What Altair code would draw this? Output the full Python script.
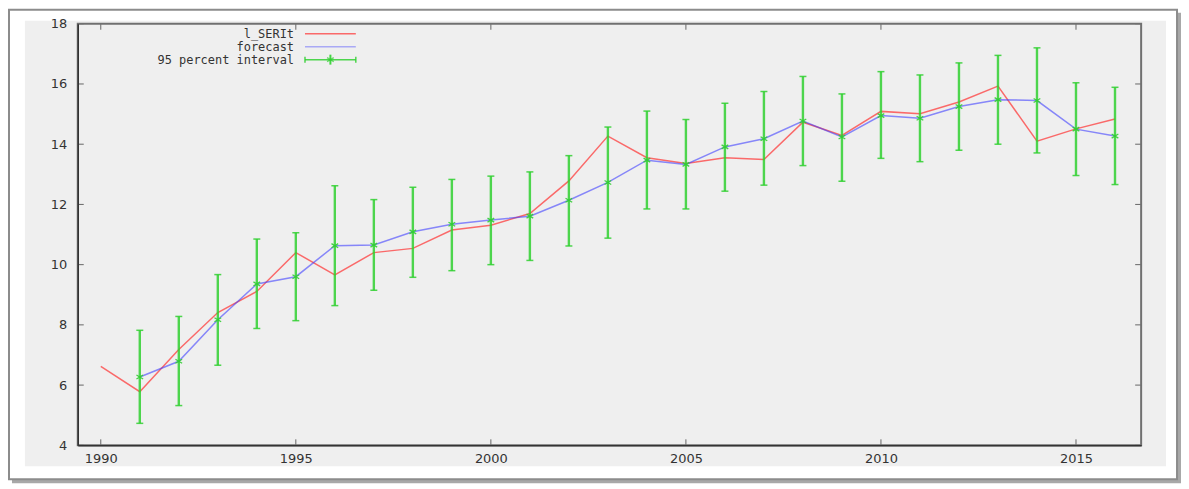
import altair as alt
import pandas as pd

# ---- data ----
years = list(range(1990, 2017))
actual = [6.62, 5.78, 7.18, 8.41, 9.11, 10.40, 9.66, 10.40, 10.54, 11.15, 11.31,
          11.70, 12.78, 14.27, 13.55, 13.36, 13.55, 13.49, 14.73, 14.29, 15.09,
          15.01, 15.40, 15.93, 14.10, 14.51, 14.84]

fc_years = list(range(1991, 2017))
forecast = [6.27, 6.79, 8.17, 9.36, 9.60, 10.63, 10.65, 11.09, 11.34, 11.48, 11.61,
            12.14, 12.73, 13.47, 13.33, 13.91, 14.18, 14.77, 14.24, 14.95, 14.86,
            15.25, 15.48, 15.45, 14.50, 14.27]
lower = [4.73, 5.32, 6.66, 7.88, 8.14, 8.64, 9.15, 9.58, 9.80, 10.00, 10.14, 10.62,
         10.88, 11.85, 11.85, 12.44, 12.64, 13.29, 12.77, 13.53, 13.42, 13.80, 14.00,
         13.71, 12.96, 12.66]
upper = [7.82, 8.28, 9.67, 10.85, 11.06, 12.62, 12.16, 12.57, 12.83, 12.94, 13.08,
         13.62, 14.57, 15.10, 14.82, 15.36, 15.75, 16.25, 15.67, 16.41, 16.30, 16.70,
         16.95, 17.20, 16.04, 15.89]

x_ticks = [1990, 1995, 2000, 2005, 2010, 2015]
y_ticks = [4, 6, 8, 10, 12, 14, 16, 18]
legend_labels = ["l_SERIt", "forecast", "95 percent interval"]

# ---- frames ----
df_act = pd.DataFrame({"year": years, "value": actual})
df_fc = pd.DataFrame({"year": fc_years, "forecast": forecast, "lo": lower, "hi": upper})
df_xt = pd.DataFrame({"year": x_ticks})
df_yt = pd.DataFrame({"value": y_ticks})
one = pd.DataFrame({"k": [0]})

W, H = 1067, 423
RED = "#ff3030"
BLUE = "#4040ff"
GREEN = "#30d030"
FONT = "DejaVu Sans"
LFONT = "DejaVu Sans Mono"

xs = alt.Scale(domain=[1989.41, 2016.67], nice=False, zero=False)
ys = alt.Scale(domain=[4, 18], nice=False, zero=False)

xaxis = alt.Axis(values=x_ticks, format="d", tickSize=0, labelPadding=7,
                 domainColor="#333333", domainWidth=1.5, grid=False,
                 labelFont=FONT, labelFontSize=13, labelColor="#333333",
                 zindex=1, title=None, labelFlush=False)
yaxis = alt.Axis(values=y_ticks, format="d", tickSize=0, labelPadding=11,
                 domainColor="#333333", domainWidth=1.5, grid=False,
                 labelFont=FONT, labelFontSize=13, labelColor="#333333",
                 zindex=1, title=None, labelFlush=False)


def X(field):
    return alt.X(f"{field}:Q", scale=xs, axis=xaxis, title=None)


def Y(field):
    return alt.Y(f"{field}:Q", scale=ys, axis=yaxis, title=None)


def box(x, x2, y, y2, **kw):
    return alt.Chart(one).mark_rect(**kw).encode(
        x=alt.value(x), x2=alt.value(x2), y=alt.value(y), y2=alt.value(y2))


def hline(x, x2, y, color, width, opacity=1.0):
    return alt.Chart(one).mark_rule(color=color, strokeWidth=width, opacity=opacity).encode(
        x=alt.value(x), x2=alt.value(x2), y=alt.value(y))


def vline(x, y, y2, color, width, opacity=1.0):
    return alt.Chart(one).mark_rule(color=color, strokeWidth=width, opacity=opacity).encode(
        x=alt.value(x), y=alt.value(y), y2=alt.value(y2))


# decorative frame / panel
shadow = box(-66, 1107, -11, 461, fill="#a8a8a8")
frame = box(-69, 1103, -14, 457, fill="white", stroke="#8c8c8c", strokeWidth=2)
panel = box(-53, 1092, -3, 444, fill="#efefef")
border = box(0, W, 0, H, fillOpacity=0, stroke="#707070", strokeWidth=2)

# inward ticks (gnuplot style)
tick_col = "#666666"
tick_left = alt.Chart(df_yt).mark_rule(color=tick_col, strokeWidth=1).encode(
    y=Y("value"), x=alt.value(0), x2=alt.value(6))
tick_right = alt.Chart(df_yt).mark_rule(color=tick_col, strokeWidth=1).encode(
    y=Y("value"), x=alt.value(W - 6), x2=alt.value(W))
tick_bottom = alt.Chart(df_xt).mark_rule(color=tick_col, strokeWidth=1).encode(
    x=X("year"), y=alt.value(H), y2=alt.value(H - 6))
tick_top = alt.Chart(df_xt).mark_rule(color=tick_col, strokeWidth=1).encode(
    x=X("year"), y=alt.value(0), y2=alt.value(6))

# data layers
red_line = alt.Chart(df_act).mark_line(color=RED, strokeWidth=1.5, opacity=0.7).encode(
    x=X("year"), y=Y("value"))
blue_line = alt.Chart(df_fc).mark_line(color=BLUE, strokeWidth=1.5, opacity=0.6).encode(
    x=X("year"), y=Y("forecast"))
bars = alt.Chart(df_fc).mark_rule(color=GREEN, strokeWidth=2.4, opacity=0.85).encode(
    x=X("year"), y=Y("lo"), y2="hi")
cap_lo = alt.Chart(df_fc).mark_tick(color=GREEN, orient="horizontal", size=7,
                                    thickness=1.5, opacity=0.85).encode(
    x=X("year"), y=Y("lo"))
cap_hi = alt.Chart(df_fc).mark_tick(color=GREEN, orient="horizontal", size=7,
                                    thickness=1.5, opacity=0.85).encode(
    x=X("year"), y=Y("hi"))
XSHAPE = "M-1,-0.6L1,0.6M-1,0.6L1,-0.6"
marks = alt.Chart(df_fc).mark_point(shape=XSHAPE, size=45, color=GREEN, filled=False,
                                    strokeWidth=1.3, opacity=0.9).encode(
    x=X("year"), y=Y("forecast"))


# legend (gnuplot style, inside the plot)
def ltext(label, y):
    return alt.Chart(one).mark_text(align="right", baseline="middle", font=LFONT,
                                    fontSize=12, color="#333333").encode(
        x=alt.value(217), y=alt.value(y), text=alt.value(label))


LX1, LX2 = 228, 279
leg = [
    ltext(legend_labels[0], 10), hline(LX1, LX2, 10, RED, 1.5, 0.7),
    ltext(legend_labels[1], 23), hline(LX1, LX2, 23, BLUE, 1.5, 0.4),
    ltext(legend_labels[2], 36), hline(LX1, LX2, 36, GREEN, 1.5, 0.85),
    vline(LX1, 33, 39, GREEN, 1.5, 0.85), vline(LX2, 33, 39, GREEN, 1.5, 0.85),
    vline((LX1 + LX2) / 2, 31, 41, GREEN, 2, 0.9),
    alt.Chart(one).mark_point(shape=XSHAPE, size=45, color=GREEN, filled=False,
                              strokeWidth=1.3).encode(
        x=alt.value((LX1 + LX2) / 2), y=alt.value(36)),
]

chart = alt.layer(
    shadow, frame, panel,
    red_line, blue_line, bars, cap_lo, cap_hi, marks,
    tick_left, tick_right, tick_bottom, tick_top, border,
    *leg
).properties(width=W, height=H, padding=0, background="white"
).configure_view(strokeWidth=0, fill=None)

chart.save("out.html", embed_options={"renderer": "svg", "actions": False})
